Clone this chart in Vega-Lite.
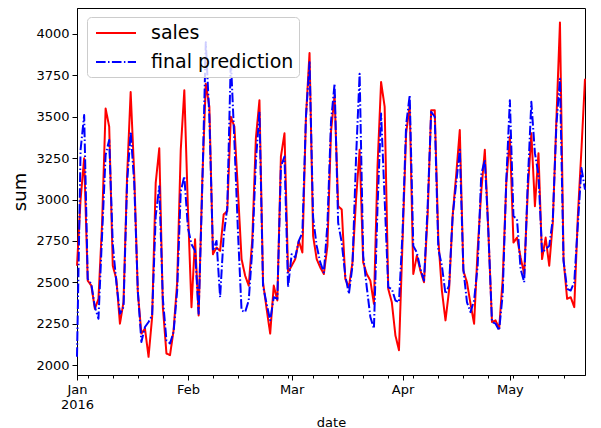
{
  "$schema": "https://vega.github.io/schema/vega-lite/v6.json",
  "width": 508,
  "height": 367,
  "autosize": {"type": "none"},
  "padding": {"left": 77, "top": 8, "right": 16, "bottom": 53},
  "background": "white",
  "config": {
    "view": {"stroke": "black", "strokeWidth": 1},
    "font": "DejaVu Sans",
    "axis": {
      "grid": false,
      "domainColor": "black",
      "tickColor": "black",
      "labelColor": "black",
      "titleColor": "black",
      "labelFont": "DejaVu Sans",
      "titleFont": "DejaVu Sans",
      "titleFontWeight": "normal",
      "labelFontSize": 13,
      "tickWidth": 1
    }
  },
  "data": {"values": [
    {"date":"2016-01-01","sales":2600,"pred":2050},
    {"date":"2016-01-02","sales":3000,"pred":3300},
    {"date":"2016-01-03","sales":3250,"pred":3510},
    {"date":"2016-01-04","sales":2510,"pred":2520},
    {"date":"2016-01-05","sales":2480,"pred":2490},
    {"date":"2016-01-06","sales":2340,"pred":2350},
    {"date":"2016-01-07","sales":2400,"pred":2280},
    {"date":"2016-01-08","sales":2850,"pred":2780},
    {"date":"2016-01-09","sales":3550,"pred":3270},
    {"date":"2016-01-10","sales":3440,"pred":3360},
    {"date":"2016-01-11","sales":2600,"pred":2730},
    {"date":"2016-01-12","sales":2520,"pred":2500},
    {"date":"2016-01-13","sales":2250,"pred":2310},
    {"date":"2016-01-14","sales":2380,"pred":2350},
    {"date":"2016-01-15","sales":3140,"pred":3100},
    {"date":"2016-01-16","sales":3650,"pred":3410},
    {"date":"2016-01-17","sales":3150,"pred":3100},
    {"date":"2016-01-18","sales":2440,"pred":2450},
    {"date":"2016-01-19","sales":2190,"pred":2140},
    {"date":"2016-01-20","sales":2220,"pred":2230},
    {"date":"2016-01-21","sales":2050,"pred":2260},
    {"date":"2016-01-22","sales":2290,"pred":2300},
    {"date":"2016-01-23","sales":3100,"pred":2900},
    {"date":"2016-01-24","sales":3310,"pred":3080},
    {"date":"2016-01-25","sales":2350,"pred":2400},
    {"date":"2016-01-26","sales":2070,"pred":2150},
    {"date":"2016-01-27","sales":2060,"pred":2130},
    {"date":"2016-01-28","sales":2210,"pred":2200},
    {"date":"2016-01-29","sales":2500,"pred":2450},
    {"date":"2016-01-30","sales":3300,"pred":3050},
    {"date":"2016-01-31","sales":3660,"pred":3140},
    {"date":"2016-02-01","sales":2950,"pred":2830},
    {"date":"2016-02-02","sales":2350,"pred":2730},
    {"date":"2016-02-03","sales":2760,"pred":2690},
    {"date":"2016-02-04","sales":2300,"pred":2310},
    {"date":"2016-02-05","sales":3100,"pred":3060},
    {"date":"2016-02-06","sales":3700,"pred":3950},
    {"date":"2016-02-07","sales":3560,"pred":3500},
    {"date":"2016-02-08","sales":2670,"pred":2690},
    {"date":"2016-02-09","sales":2710,"pred":2750},
    {"date":"2016-02-10","sales":2690,"pred":2410},
    {"date":"2016-02-11","sales":2910,"pred":2780},
    {"date":"2016-02-12","sales":2930,"pred":2950},
    {"date":"2016-02-13","sales":3500,"pred":3850},
    {"date":"2016-02-14","sales":3440,"pred":3350},
    {"date":"2016-02-15","sales":3050,"pred":2800},
    {"date":"2016-02-16","sales":2640,"pred":2330},
    {"date":"2016-02-17","sales":2540,"pred":2320},
    {"date":"2016-02-18","sales":2480,"pred":2390},
    {"date":"2016-02-19","sales":2760,"pred":2700},
    {"date":"2016-02-20","sales":3370,"pred":3230},
    {"date":"2016-02-21","sales":3600,"pred":3530},
    {"date":"2016-02-22","sales":2500,"pred":2480},
    {"date":"2016-02-23","sales":2340,"pred":2370},
    {"date":"2016-02-24","sales":2190,"pred":2270},
    {"date":"2016-02-25","sales":2480,"pred":2410},
    {"date":"2016-02-26","sales":2390,"pred":2400},
    {"date":"2016-02-27","sales":3260,"pred":3200},
    {"date":"2016-02-28","sales":3400,"pred":3260},
    {"date":"2016-02-29","sales":2560,"pred":2470},
    {"date":"2016-03-01","sales":2600,"pred":2670},
    {"date":"2016-03-02","sales":2640,"pred":2650},
    {"date":"2016-03-03","sales":2750,"pred":2750},
    {"date":"2016-03-04","sales":2680,"pred":2800},
    {"date":"2016-03-05","sales":3500,"pred":3500},
    {"date":"2016-03-06","sales":3885,"pred":3830},
    {"date":"2016-03-07","sales":2780,"pred":2890},
    {"date":"2016-03-08","sales":2640,"pred":2720},
    {"date":"2016-03-09","sales":2590,"pred":2620},
    {"date":"2016-03-10","sales":2550,"pred":2560},
    {"date":"2016-03-11","sales":2720,"pred":2850},
    {"date":"2016-03-12","sales":3410,"pred":3470},
    {"date":"2016-03-13","sales":3630,"pred":3700},
    {"date":"2016-03-14","sales":2960,"pred":2860},
    {"date":"2016-03-15","sales":2940,"pred":2740},
    {"date":"2016-03-16","sales":2520,"pred":2540},
    {"date":"2016-03-17","sales":2470,"pred":2430},
    {"date":"2016-03-18","sales":2620,"pred":2600},
    {"date":"2016-03-19","sales":3000,"pred":3250},
    {"date":"2016-03-20","sales":3300,"pred":3760},
    {"date":"2016-03-21","sales":2620,"pred":2660},
    {"date":"2016-03-22","sales":2550,"pred":2470},
    {"date":"2016-03-23","sales":2510,"pred":2290},
    {"date":"2016-03-24","sales":2370,"pred":2220},
    {"date":"2016-03-25","sales":3200,"pred":2950},
    {"date":"2016-03-26","sales":3710,"pred":3520},
    {"date":"2016-03-27","sales":3560,"pred":3000},
    {"date":"2016-03-28","sales":2460,"pred":2470},
    {"date":"2016-03-29","sales":2380,"pred":2460},
    {"date":"2016-03-30","sales":2180,"pred":2390},
    {"date":"2016-03-31","sales":2090,"pred":2380},
    {"date":"2016-04-01","sales":2750,"pred":2800},
    {"date":"2016-04-02","sales":3400,"pred":3450},
    {"date":"2016-04-03","sales":3570,"pred":3630},
    {"date":"2016-04-04","sales":2550,"pred":2720},
    {"date":"2016-04-05","sales":2660,"pred":2680},
    {"date":"2016-04-06","sales":2570,"pred":2580},
    {"date":"2016-04-07","sales":2500,"pred":2510},
    {"date":"2016-04-08","sales":2900,"pred":2950},
    {"date":"2016-04-09","sales":3540,"pred":3530},
    {"date":"2016-04-10","sales":3540,"pred":3500},
    {"date":"2016-04-11","sales":2760,"pred":2700},
    {"date":"2016-04-12","sales":2450,"pred":2600},
    {"date":"2016-04-13","sales":2270,"pred":2430},
    {"date":"2016-04-14","sales":2450,"pred":2480},
    {"date":"2016-04-15","sales":2900,"pred":2900},
    {"date":"2016-04-16","sales":3150,"pred":3100},
    {"date":"2016-04-17","sales":3420,"pred":3300},
    {"date":"2016-04-18","sales":2570,"pred":2580},
    {"date":"2016-04-19","sales":2500,"pred":2380},
    {"date":"2016-04-20","sales":2370,"pred":2320},
    {"date":"2016-04-21","sales":2250,"pred":2390},
    {"date":"2016-04-22","sales":2700,"pred":2600},
    {"date":"2016-04-23","sales":3050,"pred":3150},
    {"date":"2016-04-24","sales":3300,"pred":3240},
    {"date":"2016-04-25","sales":2800,"pred":2800},
    {"date":"2016-04-26","sales":2260,"pred":2260},
    {"date":"2016-04-27","sales":2270,"pred":2250},
    {"date":"2016-04-28","sales":2220,"pred":2210},
    {"date":"2016-04-29","sales":2520,"pred":2430},
    {"date":"2016-04-30","sales":3100,"pred":3120},
    {"date":"2016-05-01","sales":3380,"pred":3600},
    {"date":"2016-05-02","sales":2740,"pred":2900},
    {"date":"2016-05-03","sales":2770,"pred":2880},
    {"date":"2016-05-04","sales":2650,"pred":2580},
    {"date":"2016-05-05","sales":2550,"pred":2500},
    {"date":"2016-05-06","sales":3050,"pred":3100},
    {"date":"2016-05-07","sales":3400,"pred":3590},
    {"date":"2016-05-08","sales":2960,"pred":3280},
    {"date":"2016-05-09","sales":3280,"pred":3150},
    {"date":"2016-05-10","sales":2640,"pred":2680},
    {"date":"2016-05-11","sales":2770,"pred":2700},
    {"date":"2016-05-12","sales":2600,"pred":2720},
    {"date":"2016-05-13","sales":2860,"pred":2880},
    {"date":"2016-05-14","sales":3480,"pred":3450},
    {"date":"2016-05-15","sales":4070,"pred":3730},
    {"date":"2016-05-16","sales":2640,"pred":2630},
    {"date":"2016-05-17","sales":2400,"pred":2460},
    {"date":"2016-05-18","sales":2410,"pred":2450},
    {"date":"2016-05-19","sales":2350,"pred":2500},
    {"date":"2016-05-20","sales":2900,"pred":2850},
    {"date":"2016-05-21","sales":3300,"pred":3190},
    {"date":"2016-05-22","sales":3730,"pred":3060}
  ]},
  "encoding": {
    "x": {
      "field": "date",
      "type": "temporal",
      "scale": {
        "type": "utc",
        "domain": [
          {"year": 2016, "month": 1, "date": 1, "utc": true},
          {"year": 2016, "month": 5, "date": 22, "utc": true}
        ],
        "nice": false
      },
      "axis": {
        "title": "date",
        "titleFontSize": 13,
        "titlePadding": 5,
        "labelFlush": false,
        "labelOverlap": false,
        "labelBound": false,
        "labelLineHeight": 15,
        "labelPadding": 3,
        "tickSize": {"condition": {"test": "utcdate(datum.value) == 1", "value": 5}, "value": 3},
        "labelExpr": "utcdate(datum.value) == 1 ? (utcmonth(datum.value) == 0 ? ['Jan', '2016'] : utcFormat(datum.value, '%b')) : ''",
        "values": [
          {"year": 2016, "month": 1, "date": 1, "utc": true},
          {"year": 2016, "month": 1, "date": 4, "utc": true},
          {"year": 2016, "month": 1, "date": 11, "utc": true},
          {"year": 2016, "month": 1, "date": 18, "utc": true},
          {"year": 2016, "month": 1, "date": 25, "utc": true},
          {"year": 2016, "month": 2, "date": 1, "utc": true},
          {"year": 2016, "month": 2, "date": 8, "utc": true},
          {"year": 2016, "month": 2, "date": 15, "utc": true},
          {"year": 2016, "month": 2, "date": 22, "utc": true},
          {"year": 2016, "month": 2, "date": 29, "utc": true},
          {"year": 2016, "month": 3, "date": 1, "utc": true},
          {"year": 2016, "month": 3, "date": 7, "utc": true},
          {"year": 2016, "month": 3, "date": 14, "utc": true},
          {"year": 2016, "month": 3, "date": 21, "utc": true},
          {"year": 2016, "month": 3, "date": 28, "utc": true},
          {"year": 2016, "month": 4, "date": 1, "utc": true},
          {"year": 2016, "month": 4, "date": 4, "utc": true},
          {"year": 2016, "month": 4, "date": 11, "utc": true},
          {"year": 2016, "month": 4, "date": 18, "utc": true},
          {"year": 2016, "month": 4, "date": 25, "utc": true},
          {"year": 2016, "month": 5, "date": 1, "utc": true},
          {"year": 2016, "month": 5, "date": 2, "utc": true},
          {"year": 2016, "month": 5, "date": 9, "utc": true},
          {"year": 2016, "month": 5, "date": 16, "utc": true}
        ]
      }
    }
  },
  "layer": [
    {
      "mark": {"type": "line", "strokeWidth": 2, "strokeJoin": "round"},
      "encoding": {
        "y": {
          "field": "sales",
          "type": "quantitative",
          "scale": {"domain": [1940, 4157], "nice": false, "zero": false},
          "axis": {
            "title": "sum",
            "titleFontSize": 18,
            "titlePadding": 6,
            "format": "d",
            "values": [2000, 2250, 2500, 2750, 3000, 3250, 3500, 3750, 4000],
            "tickSize": 5,
            "labelPadding": 3
          }
        },
        "color": {
          "datum": "sales",
          "type": "nominal",
          "scale": {"domain": ["sales", "final prediction"], "range": ["#ff0000", "#0000ff"]},
          "legend": {
            "title": null,
            "orient": "none",
            "legendX": 10,
            "legendY": 9,
            "padding": 5,
            "fillColor": "rgba(255,255,255,0.8)",
            "strokeColor": "#cccccc",
            "cornerRadius": 4,
            "labelFont": "DejaVu Sans",
            "labelFontSize": 19,
            "labelColor": "black",
            "labelOffset": 37,
            "rowPadding": 8,
            "symbolType": "M-0.7,0H3.3",
            "symbolSize": 400,
            "symbolStrokeWidth": 2
          }
        },
        "strokeDash": {
          "datum": "sales",
          "type": "nominal",
          "scale": {"domain": ["sales", "final prediction"], "range": [[1, 0], [9.6, 2.4, 1.5, 2.4]]}
        }
      }
    },
    {
      "mark": {"type": "line", "strokeWidth": 2, "strokeJoin": "round"},
      "encoding": {
        "y": {"field": "pred", "type": "quantitative"},
        "color": {"datum": "final prediction", "type": "nominal"},
        "strokeDash": {"datum": "final prediction", "type": "nominal"}
      }
    }
  ]
}
